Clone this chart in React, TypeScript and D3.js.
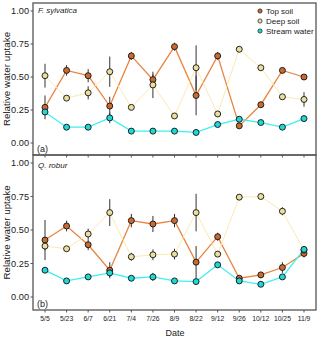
import * as d3 from "d3"

// dates on the x axis
const dates = ["5/5", "5/23", "6/7", "6/21", "7/4", "7/26", "8/9", "8/22", "9/12", "9/26", "10/12", "10/25", "11/9"]
const yTicks = [0, 0.25, 0.5, 0.75, 1]

// F. sylvatica (a)
const fsTop = [0.27, 0.55, 0.51, 0.28, 0.66, 0.48, 0.73, 0.36, 0.66, 0.13, 0.29, 0.55, 0.50]
const fsTopErr = [0.09, 0.04, 0.05, 0.07, 0.03, 0.04, 0.03, 0.15, 0.03, 0.02, 0.01, 0.02, 0.02]
const fsDeep = [0.51, 0.34, 0.38, 0.54, 0.27, 0.44, 0.205, 0.57, 0.22, 0.71, 0.57, 0.35, 0.33]
const fsDeepErr = [0.09, 0.02, 0.05, 0.115, 0.02, 0.1, 0.02, 0.17, 0.02, 0.02, 0.01, 0.02, 0.055]
const fsStream = [0.235, 0.12, 0.12, 0.19, 0.09, 0.09, 0.09, 0.08, 0.14, 0.18, 0.155, 0.12, 0.185]
const fsStreamErr = [0.02, 0.01, 0.01, 0.04, 0.01, 0.01, 0.01, 0.01, 0.01, 0.01, 0.01, 0.01, 0.01]

// Q. robur (b)
const qrTop = [0.425, 0.53, 0.39, 0.2, 0.57, 0.545, 0.57, 0.26, 0.45, 0.14, 0.165, 0.22, 0.325]
const qrTopErr = [0.15, 0.04, 0.04, 0.06, 0.05, 0.06, 0.05, 0.12, 0.03, 0.01, 0.01, 0.04, 0.03]
const qrDeep = [0.38, 0.36, 0.47, 0.63, 0.30, 0.315, 0.32, 0.63, 0.32, 0.745, 0.75, 0.64, 0.35]
const qrDeepErr = [0.03, 0.02, 0.04, 0.1, 0.03, 0.04, 0.04, 0.14, 0.02, 0.02, 0.01, 0.03, 0.03]
const qrStream = [0.2, 0.12, 0.15, 0.18, 0.14, 0.15, 0.12, 0.115, 0.24, 0.12, 0.095, 0.15, 0.355]
const qrStreamErr = [0.01, 0.01, 0.01, 0.03, 0.01, 0.03, 0.01, 0.01, 0.01, 0.01, 0.01, 0.01, 0.02]

const seriesNames = ["Top soil", "Deep soil", "Stream water"]
const lineColors = ["#e8843f", "#fbeab2", "#3ff0f0"]
const pointColors = ["#c96a32", "#eadf9e", "#1ed8d8"]

const left = 33
const right = 316
const x = d3.scalePoint().domain(dates).range([45, 304])

function Panel({ top, bottom, yScale, series, title, titleY, tag, showLegend }) {
  const line = d3.line().x((d, i) => x(dates[i])).y(d => yScale(d))
  return (
    <g>
      {series.map((s, k) => (
        <path key={"l" + k} d={line(s.vals)} fill="none" stroke={lineColors[k]}
          strokeWidth={k === 1 ? 1 : 1.3} />
      ))}
      {series.map((s, k) => s.vals.map((v, i) => (
        <line key={"e" + k + i} x1={x(dates[i])} x2={x(dates[i])}
          y1={yScale(v - s.err[i])} y2={yScale(v + s.err[i])} stroke="#333" strokeWidth={1} />
      )))}
      {series.map((s, k) => s.vals.map((v, i) => (
        <circle key={"p" + k + i} cx={x(dates[i])} cy={yScale(v)} r={3}
          fill={pointColors[k]} stroke="#111" strokeWidth={0.9} />
      )))}
      <rect x={left} y={top} width={right - left} height={bottom - top} fill="none" stroke="#555" strokeWidth={1.3} />
      {yTicks.map(t => (
        <g key={t}>
          <line x1={left - 2.5} x2={left} y1={yScale(t)} y2={yScale(t)} stroke="#555" />
          <text x={left - 4} y={yScale(t)} dy="0.35em" textAnchor="end" fontSize={9.2} fill="#222">{t.toFixed(2)}</text>
        </g>
      ))}
      {dates.map(d => (
        <line key={d} x1={x(d)} x2={x(d)} y1={bottom} y2={bottom + 2.5} stroke="#555" />
      ))}
      <text x={38} y={titleY} fontSize={8} fontStyle="italic" fill="#222">{title}</text>
      <text x={37} y={bottom - 3} fontSize={9} fill="#222">{tag}</text>
      <text transform={`translate(9.5 ${(top + bottom) / 2}) rotate(-90)`} textAnchor="middle" fontSize={9.8} fill="#222">Relative water uptake</text>
      {showLegend && seriesNames.map((n, k) => (
        <g key={n}>
          <circle cx={260} cy={top + 8 + k * 10} r={2.1} fill={pointColors[k]} stroke="#111" strokeWidth={0.7} />
          <text x={266} y={top + 8 + k * 10} dy="0.35em" fontSize={8} fill="#222">{n}</text>
        </g>
      ))}
    </g>
  )
}

export default function App() {
  const yA = d3.scaleLinear().domain([0, 1]).range([143, 11])
  const yB = d3.scaleLinear().domain([0, 1]).range([297, 163])
  const sA = [
    { vals: fsTop, err: fsTopErr },
    { vals: fsDeep, err: fsDeepErr },
    { vals: fsStream, err: fsStreamErr },
  ]
  const sB = [
    { vals: qrTop, err: qrTopErr },
    { vals: qrDeep, err: qrDeepErr },
    { vals: qrStream, err: qrStreamErr },
  ]
  return (
    <svg width={320} height={340} style={{ position: "absolute", left: 0, top: 0, fontFamily: "Liberation Sans, Arial, sans-serif", background: "#fff" }}>
      <Panel top={3} bottom={155} yScale={yA} series={sA} title="F. sylvatica" titleY={13} tag="(a)" showLegend={true} />
      <Panel top={155} bottom={310} yScale={yB} series={sB} title="Q. robur" titleY={168} tag="(b)" showLegend={false} />
      {dates.map(d => (
        <text key={d} x={x(d)} y={321} textAnchor="middle" fontSize={6.8} fill="#222">{d}</text>
      ))}
      <text x={175} y={336} textAnchor="middle" fontSize={9} fill="#222">Date</text>
    </svg>
  )
}
